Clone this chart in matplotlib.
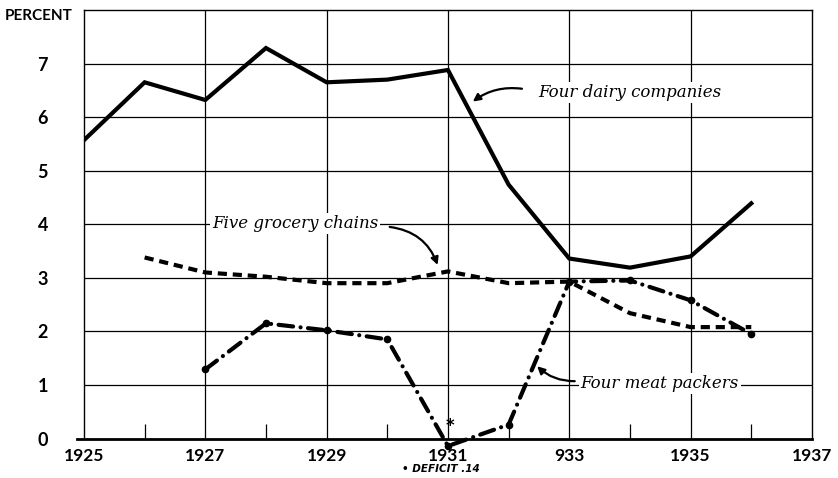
import numpy as np
import matplotlib.pyplot as plt

# values (percent)
dairy_years = [1925, 1926, 1927, 1928, 1929, 1930, 1931, 1932, 1933, 1934, 1935, 1936]
dairy = [5.57, 6.65, 6.32, 7.29, 6.65, 6.70, 6.88, 4.74, 3.36, 3.19, 3.40, 4.39]

grocery_years = [1926, 1927, 1928, 1929, 1930, 1931, 1932, 1933, 1934, 1935, 1936]
grocery = [3.38, 3.10, 3.02, 2.90, 2.90, 3.12, 2.90, 2.93, 2.34, 2.08, 2.08]

meat_years = [1927, 1928, 1929, 1930, 1931, 1932, 1933, 1934, 1935, 1936]
meat = [1.29, 2.15, 2.02, 1.85, -0.14, 0.26, 2.93, 2.95, 2.58, 1.95]

x_ticks = [1925, 1927, 1929, 1931, 1933, 1935, 1937]
x_labels = ['1925', '1927', '1929', '1931', '933', '1935', '1937']
y_ticks = [0, 1, 2, 3, 4, 5, 6, 7]

fig = plt.figure(figsize=(8.38, 4.78), dpi=100)
ax = fig.add_axes([0.1002, 0.0826, 0.8687, 0.8965])
ax.set_xlim(1925, 1937)
ax.set_ylim(0, 8)

#grid: full lines at odd years and integer percents, short ticks at even years
for x in [1927, 1929, 1931, 1933, 1935]:
    ax.axvline(x, color='black', lw=0.9, zorder=1)
for y in range(1, 8):
    ax.axhline(y, color='black', lw=0.9, zorder=1)
ax.vlines(np.arange(1926, 1937, 2), 0, 0.28, color='black', lw=0.9, zorder=1)

for s in ['left', 'top', 'right']:
    ax.spines[s].set_linewidth(1.0)
ax.spines['bottom'].set_visible(False)
ax.plot([1924.885, 1937], [0, 0], color='black', lw=2.0, clip_on=False, zorder=2)

#the three series
ax.plot(dairy_years, dairy, color='black', lw=3.0, solid_joinstyle='miter', zorder=4)
ax.plot(grocery_years, grocery, color='black', lw=3.0,
        linestyle=(0, (2.2, 1.4)), dash_capstyle='butt', zorder=4)
ax.plot(meat_years, meat, color='black', lw=3.0, linestyle=(0, (3.5, 1.8, 0.01, 1.8)),
        dash_capstyle='round', marker='o', ms=4.5, clip_on=False, zorder=4)

#ticks
ax.set_xticks(x_ticks)
ax.set_xticklabels(x_labels, fontfamily='Lato', fontweight='bold', fontsize=12.5)
ax.set_yticks(y_ticks)
ax.set_yticklabels([str(v) for v in y_ticks], fontfamily='Lato', fontweight='bold', fontsize=13)
ax.tick_params(axis='x', length=0, pad=7)
ax.tick_params(axis='y', length=0, pad=26)

fig.text(5 / 838, 1 - 16 / 478, 'PERCENT', fontfamily='Lato', fontweight='bold',
         fontsize=11, ha='left', va='center')

#series labels
lab = dict(fontfamily='DejaVu Serif', style='italic', fontsize=12, ha='center', va='center',
           zorder=5, bbox=dict(facecolor='white', edgecolor='none', pad=1.5))
ax.text(1934.0, 6.46, 'Four dairy companies', **lab)
ax.text(1928.48, 4.02, 'Five grocery chains', **lab)
ax.text(1934.49, 1.03, 'Four meat packers', **lab)

arr = dict(arrowstyle='-|>', color='black', lw=1.6, mutation_scale=11, shrinkA=0, shrinkB=0)
ax.annotate('', xy=(1931.41, 6.29), xytext=(1932.22, 6.53),
            arrowprops=dict(connectionstyle='arc3,rad=0.2', **arr), zorder=5)
ax.annotate('', xy=(1930.83, 3.24), xytext=(1930.04, 3.95),
            arrowprops=dict(connectionstyle='arc3,rad=-0.3', **arr), zorder=5)
ax.annotate('', xy=(1932.47, 1.35), xytext=(1933.09, 1.07),
            arrowprops=dict(connectionstyle='arc3,rad=-0.2', **arr), zorder=5)

#footnote for the 1931 deficit
ax.text(1931.03, 0.24, '*', fontfamily='DejaVu Sans', fontweight='bold', fontsize=12,
        ha='center', va='center')
fig.text(402 / 838, 1 - 469 / 478, '• DEFICIT .14', fontfamily='DejaVu Sans', fontweight='bold',
         style='italic', fontsize=7.5, ha='left', va='center')

fig.savefig('out.png', dpi=100)
